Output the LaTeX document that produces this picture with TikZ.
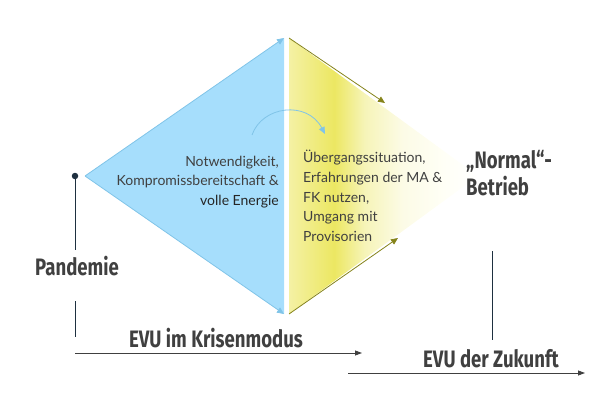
\documentclass[tikz,border=0pt]{standalone}
\usepackage{fontspec}
\setmainfont{Lato}
\newfontfamily\headfont{Fira Sans}[FakeStretch=0.78]
\usetikzlibrary{arrows.meta}
\definecolor{skyfill}{HTML}{A6DEFC}
\definecolor{skyline}{HTML}{80C4E8}
\definecolor{oliveline}{HTML}{85831A}
\definecolor{inktext}{HTML}{404040}
\definecolor{navyline}{HTML}{1E3040}
\definecolor{yelA}{HTML}{F4F1A4}
\definecolor{yelB}{HTML}{ECE762}
\definecolor{yelC}{HTML}{F6F4B8}
\definecolor{yelD}{HTML}{FCFBE6}
\definecolor{yelE}{HTML}{FFFFF6}
\pgfdeclarehorizontalshading{yellowfade}{100bp}{color(0bp)=(yelA); color(25bp)=(yelA);
  color(37bp)=(yelB); color(45bp)=(yelC); color(55bp)=(yelD); color(66bp)=(yelE);
  color(75bp)=(white); color(100bp)=(white)}
\tikzset{bodytxt/.style={font=\fontsize{14}{19.8}\selectfont, text=inktext, inner sep=0pt}}
\tikzset{head/.style={font=\headfont\bfseries\fontsize{23.8}{27}\selectfont, text=inktext, inner sep=0pt}}
\tikzset{skyarrow/.style={skyline, line width=0.8pt, -{Triangle[length=7pt,width=6pt]}}}
\tikzset{olivearrow/.style={oliveline, line width=0.8pt, -{Triangle[length=7pt,width=6pt]}}}
\tikzset{timeline/.style={inktext, line width=0.8pt, -{Triangle[length=7pt,width=5pt]}}}
\tikzset{pole/.style={navyline, line width=0.8pt}}

\begin{document}
\begin{tikzpicture}[x=1pt,y=-1pt]
  \useasboundingbox (0,0) rectangle (613,420);

  % blue and yellow triangles
  \coordinate (bL) at (85,176);
  \coordinate (bT) at (284,38);
  \coordinate (bB) at (284,314);
  \coordinate (yT) at (289,38);
  \coordinate (yB) at (289,314);
  \coordinate (yR) at (478,176);
  \fill[skyfill] (bL) -- (bT) -- (bB) -- cycle;
  \shade[shading=yellowfade] (yT) -- (yR) -- (yB) -- cycle;

  \draw[skyarrow] (bL) -- (bT);
  \draw[skyarrow] (bL) -- (bB);
  \coordinate (oT) at (385,103);
  \coordinate (oB) at (398,238);
  \draw[olivearrow] (yT) -- (oT);
  \draw[olivearrow] (yB) -- (oB);

  \coordinate (cS) at (252,135);
  \coordinate (cE) at (325,134);
  \draw[skyarrow] (cS) .. controls (262,106) and (307,100) .. (cE);

  \node[bodytxt, align=right, anchor=east] (need) at (279,182)
    {Notwendigkeit,\\Kompromissbereitschaft \&\\{\color{black!85}volle Energie}};
  \node[bodytxt, align=left, anchor=west] (trans) at (303,196)
    {Übergangssituation,\\Erfahrungen der MA \&\\FK nutzen,\\Umgang mit\\Provisorien};
  \node[head, align=left, anchor=west] (normal) at (466,173) {„Normal“-\\Betrieb};

  % left pole
  \node[circle, fill=navyline, inner sep=0pt, minimum size=6.5pt] (dot) at (75,176) {};
  \node[head] (pand) at (77,266) {Pandemie};
  \coordinate (pA) at (75,250);
  \coordinate (pB) at (75,301);
  \coordinate (pC) at (75,337);
  \draw[pole] (dot) -- (pA);
  \draw[pole] (pB) -- (pC);

  % right pole
  \coordinate (rA) at (492,251);
  \coordinate (rB) at (492,340);
  \draw[pole] (rA) -- (rB);

  % time arrows
  \coordinate (t1s) at (75,353);
  \coordinate (t1e) at (362,353);
  \coordinate (t2s) at (348,373);
  \coordinate (t2e) at (585,373);
  \draw[timeline] (t1s) -- (t1e);
  \draw[timeline] (t2s) -- (t2e);
  \node[head] (crisis) at (216,338) {EVU im Krisenmodus};
  \node[head] (future) at (491,359) {EVU der Zukunft};
\end{tikzpicture}
\end{document}
